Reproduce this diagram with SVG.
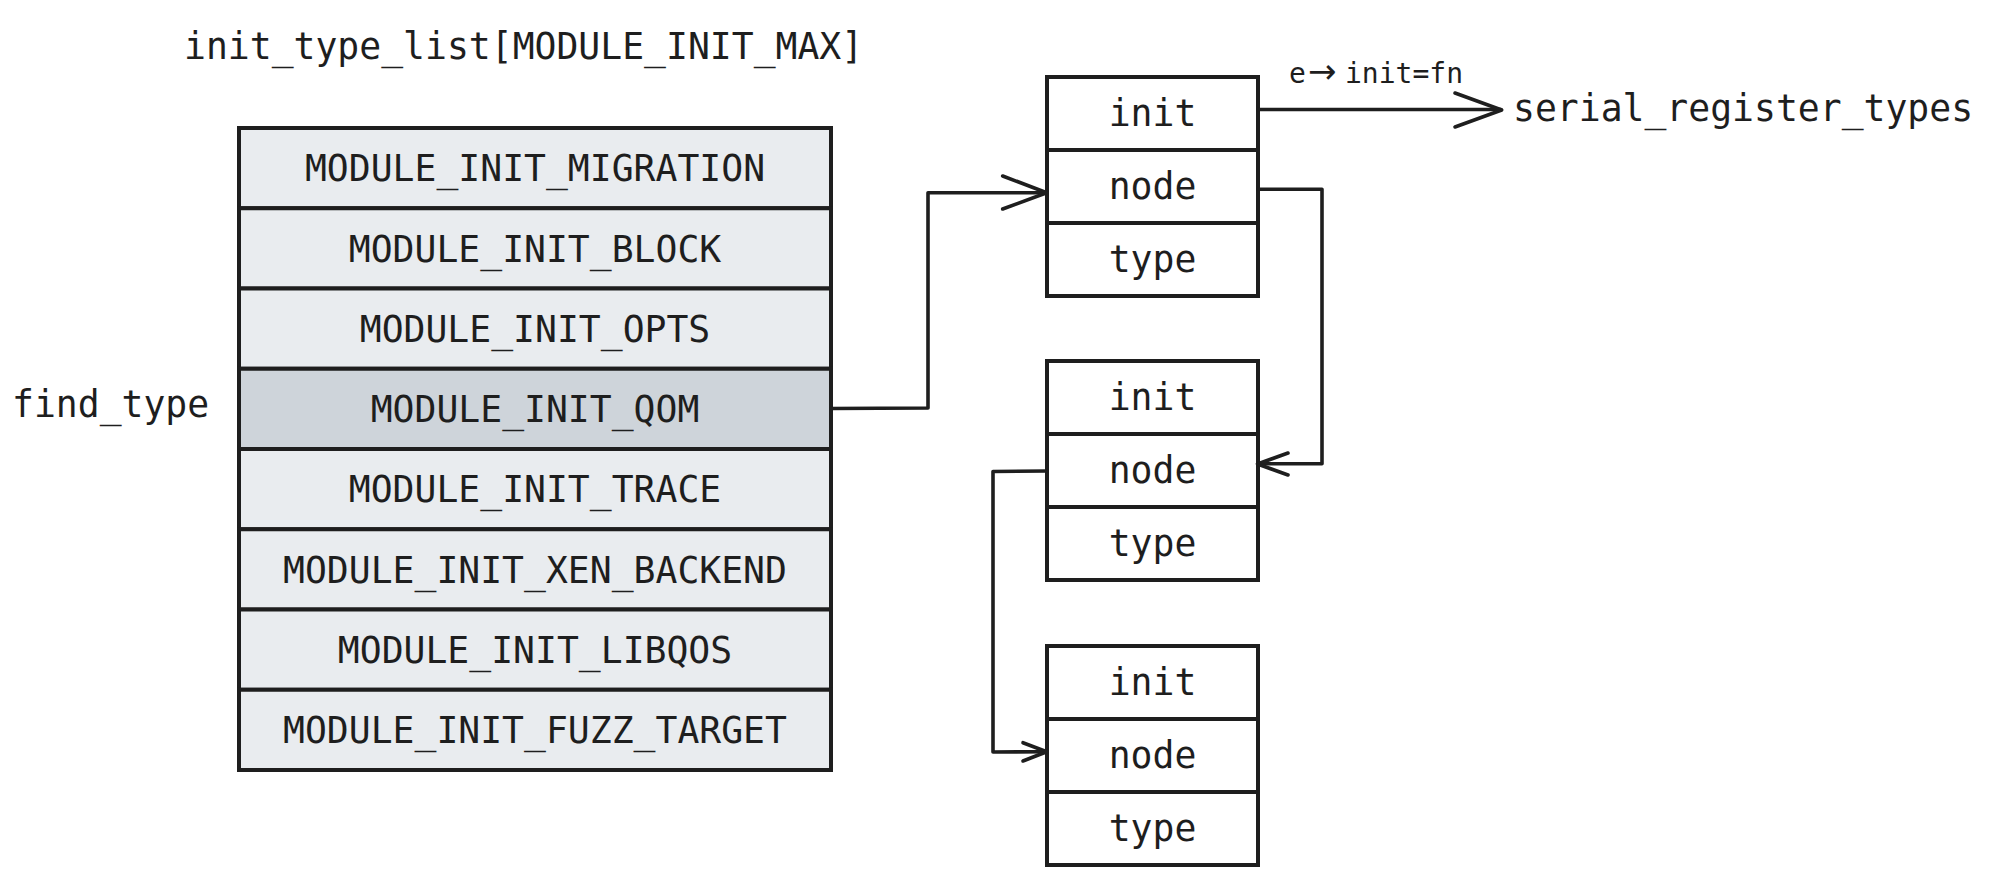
<svg xmlns="http://www.w3.org/2000/svg" width="2000" height="883" viewBox="0 0 2000 883">
<style>
  text { font-family: "DejaVu Sans Mono", "Liberation Mono", monospace; fill: #1e1e1e; }
  .lbl { font-size: 36.4px; }
  .cell { font-size: 36.4px; text-anchor: middle; }
  .small { font-size: 28px; }
  .arw { font-family: "DejaVu Sans", sans-serif; font-size: 34px; }
  .row { fill: #e9ecef; stroke: #1e1e1e; stroke-width: 4; }
  .row.sel { fill: #ced4da; }
  .fld { fill: #ffffff; stroke: #1e1e1e; stroke-width: 4; }
  .conn path { fill: none; stroke: #1e1e1e; stroke-width: 3.6; stroke-linecap: round; stroke-linejoin: round; }
</style>
<rect width="2000" height="883" fill="#ffffff"/>

<text id="title" class="lbl" x="184" y="59">init_type_list[MODULE_INIT_MAX]</text>
<text id="find_type" class="lbl" x="12" y="417">find_type</text>
<text id="serial_register_types" class="lbl" x="1513" y="121">serial_register_types</text>
<text id="edge_label" class="small" y="83"><tspan x="1289">e</tspan><tspan class="arw" x="1308">→</tspan><tspan x="1345">init=fn</tspan></text>

<g id="init_type_list">
  <g id="row_migration"><rect class="row" x="239" y="128" width="592" height="80.25"/><text class="cell" x="535" y="181">MODULE_INIT_MIGRATION</text></g>
  <g id="row_block"><rect class="row" x="239" y="208.25" width="592" height="80.25"/><text class="cell" x="535" y="261.5">MODULE_INIT_BLOCK</text></g>
  <g id="row_opts"><rect class="row" x="239" y="288.5" width="592" height="80.25"/><text class="cell" x="535" y="341.5">MODULE_INIT_OPTS</text></g>
  <g id="row_qom"><rect class="row sel" x="239" y="368.75" width="592" height="80.25"/><text class="cell" x="535" y="422">MODULE_INIT_QOM</text></g>
  <g id="row_trace"><rect class="row" x="239" y="449" width="592" height="80.25"/><text class="cell" x="535" y="502">MODULE_INIT_TRACE</text></g>
  <g id="row_xen"><rect class="row" x="239" y="529.25" width="592" height="80.25"/><text class="cell" x="535" y="582.5">MODULE_INIT_XEN_BACKEND</text></g>
  <g id="row_libqos"><rect class="row" x="239" y="609.5" width="592" height="80.25"/><text class="cell" x="535" y="662.5">MODULE_INIT_LIBQOS</text></g>
  <g id="row_fuzz"><rect class="row" x="239" y="689.75" width="592" height="80.25"/><text class="cell" x="535" y="743">MODULE_INIT_FUZZ_TARGET</text></g>
</g>

<g id="entry1">
  <rect class="fld" x="1047" y="77" width="211" height="73"/><text class="cell" x="1152.5" y="126">init</text>
  <rect class="fld" x="1047" y="150" width="211" height="73"/><text class="cell" x="1152.5" y="199">node</text>
  <rect class="fld" x="1047" y="223" width="211" height="73"/><text class="cell" x="1152.5" y="272">type</text>
</g>
<g id="entry2">
  <rect class="fld" x="1047" y="361" width="211" height="73"/><text class="cell" x="1152.5" y="410">init</text>
  <rect class="fld" x="1047" y="434" width="211" height="73"/><text class="cell" x="1152.5" y="483">node</text>
  <rect class="fld" x="1047" y="507" width="211" height="73"/><text class="cell" x="1152.5" y="556">type</text>
</g>
<g id="entry3">
  <rect class="fld" x="1047" y="646" width="211" height="73"/><text class="cell" x="1152.5" y="695">init</text>
  <rect class="fld" x="1047" y="719" width="211" height="73"/><text class="cell" x="1152.5" y="768">node</text>
  <rect class="fld" x="1047" y="792" width="211" height="73"/><text class="cell" x="1152.5" y="841">type</text>
</g>

<g id="connectors" class="conn">
  <path d="M 831 408.5 L 928 408 L 928 192.7 L 1046 192.7"/>
  <path d="M 1002.7 176 L 1046.7 192.7 L 1002.7 209"/>
  <path d="M 1258 109.5 L 1501 109.5"/>
  <path d="M 1455 93 L 1501.7 110 L 1455 127"/>
  <path d="M 1258 189.3 L 1322 189.3 L 1322 463.7 L 1258 463.7"/>
  <path d="M 1288 453 L 1257.5 464 L 1288 475"/>
  <path d="M 1047 471 L 993 471.5 L 993 752 L 1046 751.7"/>
  <path d="M 1023 742.7 L 1046.7 751.7 L 1023 761"/>
</g>
</svg>
